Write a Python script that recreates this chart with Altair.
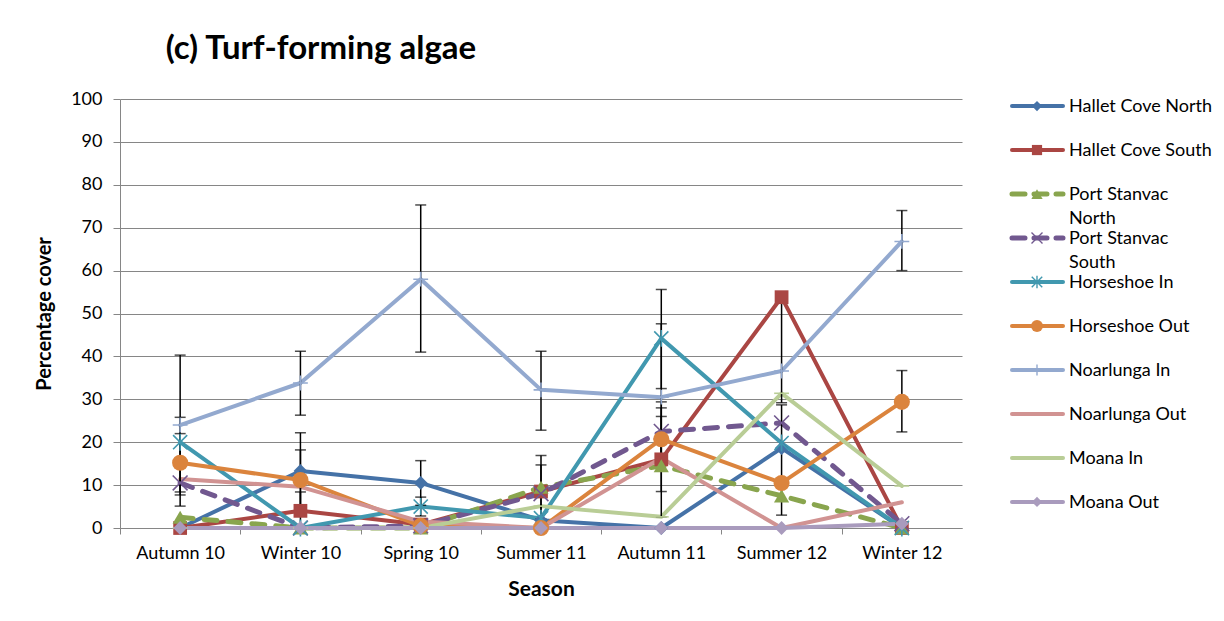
import altair as alt
import pandas as pd

seasons = ["Autumn 10", "Winter 10", "Spring 10", "Summer 11", "Autumn 11", "Summer 12", "Winter 12"]
series_names = ["Hallet Cove North", "Hallet Cove South", "Port Stanvac North", "Port Stanvac South",
                "Horseshoe In", "Horseshoe Out", "Noarlunga In", "Noarlunga Out", "Moana In", "Moana Out"]
legend_labels = ["Hallet Cove North", "Hallet Cove South", "Port Stanvac\nNorth", "Port Stanvac\nSouth",
                 "Horseshoe In", "Horseshoe Out", "Noarlunga In", "Noarlunga Out", "Moana In", "Moana Out"]

hallet_north = [0, 13.3, 10.5, 1.8, 0, 18.6, 0]
hallet_south = [0, 4, 0.8, 8.5, 16, 53.8, 0]
stanvac_north = [2.5, 0, 0, 9.5, 14.5, 7.5, 0]
stanvac_south = [10.5, 0, 0.5, 8, 22.5, 24.5, 1]
horseshoe_in = [20, 0, 5, 2.3, 44.2, 19.8, 0]
horseshoe_out = [15.2, 11.2, 0.5, 0, 20.7, 10.5, 29.4]
noarlunga_in = [24, 33.8, 58, 32.2, 30.5, 36.6, 66.8]
noarlunga_out = [11.4, 9.6, 1.5, 0, 16.3, 0, 6]
moana_in = [0, 0, 0, 5.1, 2.6, 31.4, 9.8]
moana_out = [0, 0, 0, 0, 0, 0, 1]

all_values = [hallet_north, hallet_south, stanvac_north, stanvac_south, horseshoe_in,
              horseshoe_out, noarlunga_in, noarlunga_out, moana_in, moana_out]

# error bars (season, low end, high end)
err_season = ["Autumn 10", "Autumn 10", "Autumn 10", "Autumn 10",
              "Winter 10", "Winter 10", "Winter 10", "Winter 10",
              "Spring 10", "Spring 10", "Spring 10",
              "Summer 11", "Summer 11", "Summer 11",
              "Autumn 11", "Autumn 11", "Autumn 11", "Autumn 11", "Autumn 11", "Autumn 11",
              "Summer 12", "Summer 12",
              "Winter 12", "Winter 12"]
err_lo = [7.7, 14.2, 8.4, 5.1,
          26.3, 4.1, 3.8, 0.1,
          41, 5.3, 2.8,
          22.8, 2.1, 1.3,
          32.5, 13.4, 16.2, 15, 8.5, 2.6,
          29.2, 3,
          60, 22.4]
err_hi = [40.3, 25.8, 22, 15.9,
          41.2, 22.2, 18.2, 8.4,
          75.3, 15.7, 7.2,
          41.2, 16.9, 14.7,
          55.6, 47.6, 28, 26, 20.5, 29.4,
          54, 28.7,
          74, 36.7]

colors = ["#4572A7", "#AA4643", "#89A54E", "#71588F", "#4198AF",
          "#DB843D", "#93A9CF", "#D19392", "#B9CD96", "#A99BBD"]
dashes = [None, None, [13, 11], [13, 11], None, None, None, None, None, None]
X_PATH = "M-1,-1L1,1M-1,1L1,-1"
AST_PATH = "M-1,-1L1,1M-1,1L1,-1M0,-1.2L0,1.2"
PLUS_PATH = "M-1,0L1,0M0,-1L0,1"
DASH_PATH = "M-1,0L1,0"
shapes = ["diamond", "square", "triangle-up", X_PATH, AST_PATH, "circle", PLUS_PATH, None, DASH_PATH, "diamond"]
filled = [True, True, True, False, False, True, False, True, False, True]
sizes = [190, 190, 230, 220, 200, 260, 220, 0, 220, 190]

FONT = "Lato"

rows = []
for name, vals in zip(series_names, all_values):
    for s, v in zip(seasons, vals):
        rows.append({"series": name, "season": s, "value": v})
df = pd.DataFrame(rows)

err_df = pd.DataFrame({"season": err_season, "lo": err_lo, "hi": err_hi})
cap_df = pd.DataFrame({"season": err_season + err_season, "cap": err_lo + err_hi})

x_enc = alt.X("season:N", sort=seasons, scale=alt.Scale(type="point", padding=0.5),
              axis=alt.Axis(title="Season", labelAngle=0, labelFontSize=18, labelFont=FONT,
                            labelColor="black", titleFont=FONT, titleFontSize=21,
                            titleFontWeight="bold", titleColor="black", titlePadding=16,
                            domainColor="#868686", tickColor="#868686", tickSize=6,
                            tickOffset=-60.14, labelOffset=60.14, labelPadding=10))
y_scale = alt.Scale(domain=[0, 100], nice=False)
y_axis = alt.Axis(title="Percentage cover", values=list(range(0, 101, 10)), labelFontSize=18,
                  labelFont=FONT, labelColor="black", titleFont=FONT, titleFontSize=20,
                  titleFontWeight="bold", titleColor="black", titlePadding=16,
                  domainColor="#868686", tickColor="#868686", tickSize=7, labelPadding=11,
                  gridColor="#868686", gridWidth=1)

layers = []
for i, name in enumerate(series_names):
    sub = df[df["series"] == name]
    kw = dict(color=colors[i], strokeWidth=4, strokeCap="round", strokeJoin="round")
    if dashes[i]:
        kw["strokeDash"] = dashes[i]
        kw["strokeWidth"] = 5
    layers.append(alt.Chart(sub).mark_line(**kw).encode(
        x=x_enc, y=alt.Y("value:Q", scale=y_scale, axis=y_axis)))

layers.append(alt.Chart(err_df).mark_rule(color="black", strokeWidth=1.5).encode(
    x=x_enc, y=alt.Y("lo:Q", scale=y_scale, axis=y_axis), y2="hi:Q"))
layers.append(alt.Chart(cap_df).mark_tick(color="black", orient="horizontal", size=11, thickness=1.5).encode(
    x=x_enc, y=alt.Y("cap:Q", scale=y_scale, axis=y_axis)))

for i, name in enumerate(series_names):
    if shapes[i] is None:
        continue
    sub = df[df["series"] == name]
    if filled[i]:
        mk = alt.Chart(sub).mark_point(shape=shapes[i], filled=True, opacity=1, color=colors[i],
                                       size=sizes[i], strokeWidth=0)
    else:
        mk = alt.Chart(sub).mark_point(shape=shapes[i], filled=False, opacity=1, color=colors[i],
                                       size=sizes[i], strokeWidth=1.6)
    layers.append(mk.encode(x=x_enc, y=alt.Y("value:Q", scale=y_scale, axis=y_axis)))

main = alt.layer(*layers).properties(width=842, height=429)

# legend panel
leg_df = pd.DataFrame({"series": series_names, "label": legend_labels})
leg_y = alt.Y("series:N", sort=series_names,
              scale=alt.Scale(type="point", domain=series_names, padding=0.16), axis=None)
leg_layers = []
for i, name in enumerate(series_names):
    sub = leg_df[leg_df["series"] == name]
    kw = dict(color=colors[i], strokeWidth=4, strokeCap="round")
    if dashes[i]:
        kw["strokeDash"] = [13, 9]
        kw["strokeWidth"] = 5
    leg_layers.append(alt.Chart(sub).mark_rule(**kw).encode(
        x=alt.value(2), x2=alt.value(53), y=leg_y))
for i, name in enumerate(series_names):
    if shapes[i] is None:
        continue
    sub = leg_df[leg_df["series"] == name]
    if filled[i]:
        mk = alt.Chart(sub).mark_point(shape=shapes[i], filled=True, opacity=1, color=colors[i],
                                       size=int(sizes[i] * 0.55), strokeWidth=0)
    else:
        mk = alt.Chart(sub).mark_point(shape=shapes[i], filled=False, opacity=1, color=colors[i],
                                       size=int(sizes[i] * 0.55), strokeWidth=1.4)
    leg_layers.append(mk.encode(x=alt.value(27), y=leg_y))
leg_layers.append(alt.Chart(leg_df).mark_text(align="left", baseline="alphabetic", dy=6,
                                              font=FONT, fontSize=18, color="black",
                                              lineBreak="\n", lineHeight=24).encode(
    x=alt.value(59), y=leg_y, text="label:N"))
legend = alt.layer(*leg_layers).properties(width=150, height=410)

chart = alt.hconcat(main, legend, spacing=47).properties(
    title=alt.Title("(c) Turf-forming algae", anchor="start", font=FONT, fontSize=33,
                    fontWeight="bold", color="black", dx=131, offset=24),
    padding={"left": 34, "top": 33, "right": 5, "bottom": 5},
    background="white",
).configure_view(stroke=None)

chart.save("out.html", embed_options={"renderer": "svg", "actions": False})
